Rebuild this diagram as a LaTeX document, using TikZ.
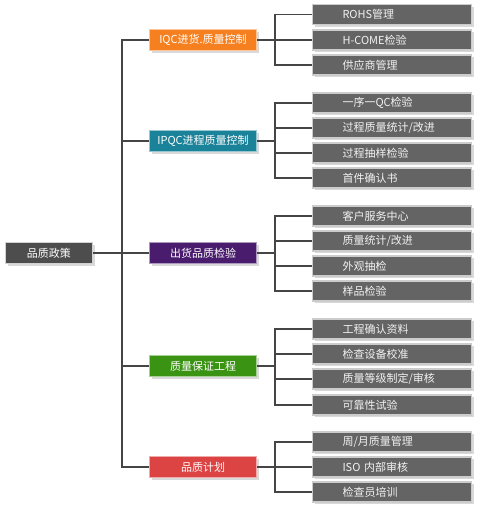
\documentclass[tikz,border=0pt]{standalone}
\usepackage{fontspec}
\newfontfamily\cjk{Noto Sans CJK SC}
\usetikzlibrary{shadows}
\definecolor{cOrange}{HTML}{F6801F}
\definecolor{cTeal}{HTML}{1A8299}
\definecolor{cPurple}{HTML}{4A1C6E}
\definecolor{cGreen}{HTML}{3A9313}
\definecolor{cRed}{HTML}{DC4343}
\definecolor{cRoot}{HTML}{4D4D4D}
\definecolor{cLeaf}{HTML}{646464}
\definecolor{cLine}{HTML}{454545}
\tikzset{
  boxbase/.style={inner sep=0pt, font=\cjk\fontsize{11}{12}\selectfont, text=white,
    drop shadow={opacity=0.3, shadow xshift=2pt, shadow yshift=-2pt}},
  rootbox/.style={boxbase, fill=cRoot, draw=gray!35, line width=1pt, minimum width=87pt, minimum height=21pt},
  catbox/.style={boxbase, fill=#1, draw=#1!45!white, line width=1pt, minimum width=107pt, minimum height=21pt},
  leafbox/.style={boxbase, fill=cLeaf, draw=gray!40, line width=1.2pt, minimum width=159pt, minimum height=20pt,
    text width=99pt, align=left, text=white!95!black},
  conn/.style={draw=cLine, line width=1.1pt}
}
\begin{document}
\begin{tikzpicture}[x=1pt,y=-1pt]
\useasboundingbox (0,0) rectangle (483,512);
\coordinate (tk) at (122,0);
\coordinate (bx) at (275,0);
% root
\node[rootbox] (root) at (49,253) {品质政策};
% categories
\node[catbox=cOrange] (c1) at (203,40) {IQC进货.质量控制};
\node[catbox=cTeal] (c2) at (203,141) {IPQC进程质量控制};
\node[catbox=cPurple] (c3) at (203,253) {出货品质检验};
\node[catbox=cGreen] (c4) at (203,366) {质量保证工程};
\node[catbox=cRed] (c5) at (203,467) {品质计划};
% leaves
\node[leafbox] (l11) at (392,14.5) {ROHS管理};
\node[leafbox] (l12) at (392,40) {H-COME检验};
\node[leafbox] (l13) at (392,65) {供应商管理};
\node[leafbox] (l21) at (392,103) {一序一QC检验};
\node[leafbox] (l22) at (392,128) {过程质量统计/改进};
\node[leafbox] (l23) at (392,153) {过程抽样检验};
\node[leafbox] (l24) at (392,178) {首件确认书};
\node[leafbox] (l31) at (392,216) {客户服务中心};
\node[leafbox] (l32) at (392,241) {质量统计/改进};
\node[leafbox] (l33) at (392,266) {外观抽检};
\node[leafbox] (l34) at (392,291) {样品检验};
\node[leafbox] (l41) at (392,329) {工程确认资料};
\node[leafbox] (l42) at (392,354) {检查设备校准};
\node[leafbox] (l43) at (392,379) {质量等级制定/审核};
\node[leafbox] (l44) at (392,405) {可靠性试验};
\node[leafbox] (l51) at (392,442) {周/月质量管理};
\node[leafbox] (l52) at (392,467) {ISO 内部审核};
\node[leafbox] (l53) at (392,492) {检查员培训};
% connectors
\draw[conn] (root.east) -- (root.east -| tk);
\draw[conn] (c1.west) -- (c1.west -| tk) -- (c5.west -| tk) -- (c5.west);
\draw[conn] (c2.west) -- (c2.west -| tk);
\draw[conn] (c3.west) -- (c3.west -| tk);
\draw[conn] (c4.west) -- (c4.west -| tk);
\foreach \c in {1,...,5} { \draw[conn] (c\c.east) -- (c\c.east -| bx); }
\draw[conn] (l11.west) -- (l11.west -| bx) -- (l13.west -| bx) -- (l13.west);
\draw[conn] (l12.west) -- (l12.west -| bx);
\draw[conn] (l21.west) -- (l21.west -| bx) -- (l24.west -| bx) -- (l24.west);
\draw[conn] (l22.west) -- (l22.west -| bx);
\draw[conn] (l23.west) -- (l23.west -| bx);
\draw[conn] (l31.west) -- (l31.west -| bx) -- (l34.west -| bx) -- (l34.west);
\draw[conn] (l32.west) -- (l32.west -| bx);
\draw[conn] (l33.west) -- (l33.west -| bx);
\draw[conn] (l41.west) -- (l41.west -| bx) -- (l44.west -| bx) -- (l44.west);
\draw[conn] (l42.west) -- (l42.west -| bx);
\draw[conn] (l43.west) -- (l43.west -| bx);
\draw[conn] (l51.west) -- (l51.west -| bx) -- (l53.west -| bx) -- (l53.west);
\draw[conn] (l52.west) -- (l52.west -| bx);
\end{tikzpicture}
\end{document}
